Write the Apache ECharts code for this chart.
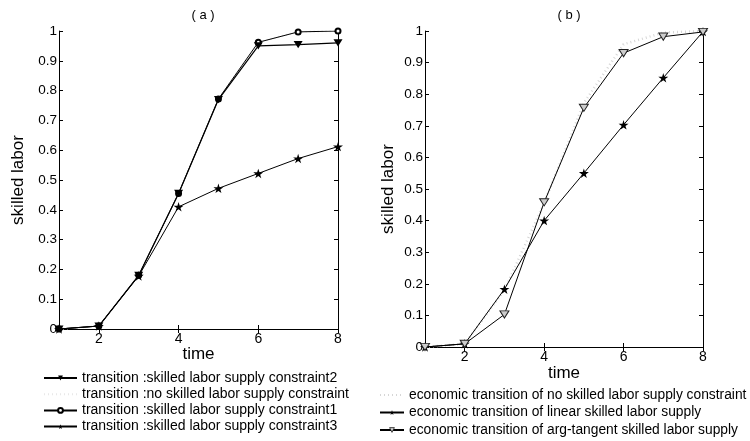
<!DOCTYPE html>
<html>
<head>
<meta charset="utf-8">
<script src="https://cdn.jsdelivr.net/npm/echarts@6/dist/echarts.min.js"></script>
<style>
html,body{margin:0;padding:0;background:#fff;}
#chart{width:750px;height:441px;}
</style>
</head>
<body>
<div id="chart"></div>
<script>
// ---- data ----
const timeSteps = [1, 2, 3, 4, 5, 6, 7, 8];
const xTickValues = [2, 4, 6, 8];

// panel (a)
const constraint2 = [0, 0.01, 0.18, 0.455, 0.77, 0.95, 0.954, 0.96];
const noConstraintA = [0, 0.01, 0.18, 0.455, 0.772, 0.962, 0.997, 1.0];
const constraint1 = [0, 0.01, 0.18, 0.455, 0.772, 0.962, 0.997, 1.0];
const constraint3 = [0, 0.01, 0.178, 0.41, 0.472, 0.522, 0.572, 0.612];

// panel (b)
const noConstraintB = [0, 0.01, 0.18, 0.455, 0.772, 0.958, 0.995, 1.0];
const linearSupply = [0, 0.01, 0.183, 0.4, 0.55, 0.703, 0.852, 0.998];
const argTangentSupply = [0, 0.01, 0.103, 0.458, 0.757, 0.93, 0.982, 0.997];

const namesA = [
  'transition :skilled labor supply constraint2',
  'transition :no skilled labor supply constraint',
  'transition :skilled labor supply constraint1',
  'transition :skilled labor supply constraint3'
];
const namesB = [
  'economic transition of no skilled labor supply constraint',
  'economic transition of linear skilled labor supply',
  'economic transition of arg-tangent skilled labor supply'
];
const titlesText = ['( a )', '( b )'];
const xName = 'time';
const yName = 'skilled labor';

// ---- styling ----
const FONT = '"Liberation Sans", Arial, Helvetica, sans-serif';
const STAR = 'path://M50,0 L61,35 L98,35 L68,57 L79,91 L50,70 L21,91 L32,57 L2,35 L39,35 Z';
const DOWN_TRI = 'path://M0,0 L10,0 L5,9 Z';

function pairs(xs, ys) { return xs.map((x, i) => [x, ys[i]]); }

function xAxes(gi, gapName) {
  return [
    {
      gridIndex: gi, type: 'value', min: 1, max: 8, position: 'bottom',
      name: xName, nameLocation: 'middle', nameGap: gapName, nameMoveOverlap: false,
      nameTextStyle: {fontFamily: FONT, fontSize: 17, color: '#000'},
      axisLine: {show: true, lineStyle: {color: '#000', width: 1}},
      axisTick: {show: true, inside: true, length: 4, customValues: xTickValues, lineStyle: {color: '#000'}},
      axisLabel: {show: true, customValues: xTickValues, margin: 3, fontFamily: FONT, fontSize: 14, color: '#000'},
      splitLine: {show: false}
    },
    {
      gridIndex: gi, type: 'value', min: 1, max: 8, position: 'top',
      axisLine: {show: true, lineStyle: {color: '#000', width: 1}},
      axisTick: {show: true, inside: true, length: 4, customValues: xTickValues, lineStyle: {color: '#000'}},
      axisLabel: {show: false},
      splitLine: {show: false}
    }
  ];
}
function yAxes(gi, gapName) {
  return [
    {
      gridIndex: gi, type: 'value', min: 0, max: 1, interval: 0.1, position: 'left',
      name: yName, nameLocation: 'middle', nameGap: gapName, nameMoveOverlap: false,
      nameTextStyle: {fontFamily: FONT, fontSize: 17, color: '#000'},
      axisLine: {show: true, lineStyle: {color: '#000', width: 1}},
      axisTick: {show: true, inside: true, length: 4, lineStyle: {color: '#000'}},
      axisLabel: {show: true, margin: 2, fontFamily: FONT, fontSize: 13.5, color: '#000'},
      splitLine: {show: false}
    },
    {
      gridIndex: gi, type: 'value', min: 0, max: 1, interval: 0.1, position: 'right',
      axisLine: {show: true, lineStyle: {color: '#000', width: 1}},
      axisTick: {show: true, inside: true, length: 4, lineStyle: {color: '#000'}},
      axisLabel: {show: false},
      splitLine: {show: false}
    }
  ];
}

const chart = echarts.init(document.getElementById('chart'), null, {renderer: 'canvas'});

const option = {
  backgroundColor: '#fff',
  animation: false,
  title: [
    {text: titlesText[0], left: 198, top: 4, textAlign: 'center',
     textStyle: {fontFamily: FONT, fontSize: 13, fontWeight: 'normal', color: '#000'}},
    {text: titlesText[1], left: 564, top: 4, textAlign: 'center',
     textStyle: {fontFamily: FONT, fontSize: 13, fontWeight: 'normal', color: '#000'}}
  ],
  grid: [
    {left: 59, top: 31, width: 279, height: 298, containLabel: false},
    {left: 425, top: 31, width: 278, height: 316, containLabel: false}
  ],
  xAxis: [...xAxes(0, 17), ...xAxes(1, 18)],
  yAxis: [...yAxes(0, 32), ...yAxes(1, 28)],
  legend: [
    {
      orient: 'vertical', left: 43, top: 371, height: 120, padding: 0,
      itemWidth: 33, itemHeight: 6, itemGap: 2.2,
      textStyle: {fontFamily: FONT, fontSize: 14, color: '#000'},
      data: [
        namesA[0], namesA[1],
        {name: namesA[2], itemStyle: {borderWidth: 0.7}},
        namesA[3]
      ],
      selectedMode: false
    },
    {
      orient: 'vertical', left: 379, top: 388, height: 120, padding: 0,
      itemWidth: 24, itemHeight: 6, itemGap: 3.5,
      textStyle: {fontFamily: FONT, fontSize: 13.8, color: '#000'},
      data: [
        namesB[0], namesB[1],
        {name: namesB[2], itemStyle: {borderWidth: 0.8}}
      ],
      selectedMode: false
    }
  ],
  series: [
    {
      name: namesA[1], type: 'line', xAxisIndex: 0, yAxisIndex: 0,
      data: pairs(timeSteps, noConstraintA), symbol: 'circle', symbolSize: 0, showSymbol: false,
      lineStyle: {color: '#e8e8e8', width: 2, type: [1, 3]}, itemStyle: {color: 'rgba(0,0,0,0)'}
    },
    {
      name: namesA[2], type: 'line', xAxisIndex: 0, yAxisIndex: 0,
      data: pairs(timeSteps, constraint1), symbol: 'emptyCircle', symbolSize: 5,
      lineStyle: {color: '#000', width: 1}, itemStyle: {color: '#000', borderWidth: 0.8}
    },
    {
      name: namesA[0], type: 'line', xAxisIndex: 0, yAxisIndex: 0,
      data: pairs(timeSteps, constraint2), symbol: DOWN_TRI, symbolSize: [9, 8], symbolKeepAspect: true,
      lineStyle: {color: '#000', width: 1.2}, itemStyle: {color: '#000'}
    },
    {
      name: namesA[3], type: 'line', xAxisIndex: 0, yAxisIndex: 0,
      data: pairs(timeSteps, constraint3), symbol: STAR, symbolSize: 10, symbolKeepAspect: true,
      lineStyle: {color: '#000', width: 1}, itemStyle: {color: '#000'}
    },
    {
      name: namesB[0], type: 'line', xAxisIndex: 2, yAxisIndex: 2,
      data: pairs(timeSteps, noConstraintB), symbol: 'circle', symbolSize: 0, showSymbol: false,
      lineStyle: {color: '#d6d6d6', width: 2.5, type: [1, 3]}, itemStyle: {color: 'rgba(0,0,0,0)'}
    },
    {
      name: namesB[1], type: 'line', xAxisIndex: 2, yAxisIndex: 2,
      data: pairs(timeSteps, linearSupply), symbol: STAR, symbolSize: 10, symbolKeepAspect: true,
      lineStyle: {color: '#000', width: 1}, itemStyle: {color: '#000'}
    },
    {
      name: namesB[2], type: 'line', xAxisIndex: 2, yAxisIndex: 2,
      data: pairs(timeSteps, argTangentSupply), symbol: DOWN_TRI, symbolSize: [9, 8], symbolKeepAspect: true,
      lineStyle: {color: '#000', width: 1}, itemStyle: {color: '#ccc', borderColor: '#222', borderWidth: 1}
    }
  ]
};
chart.setOption(option);
</script>
</body>
</html>
